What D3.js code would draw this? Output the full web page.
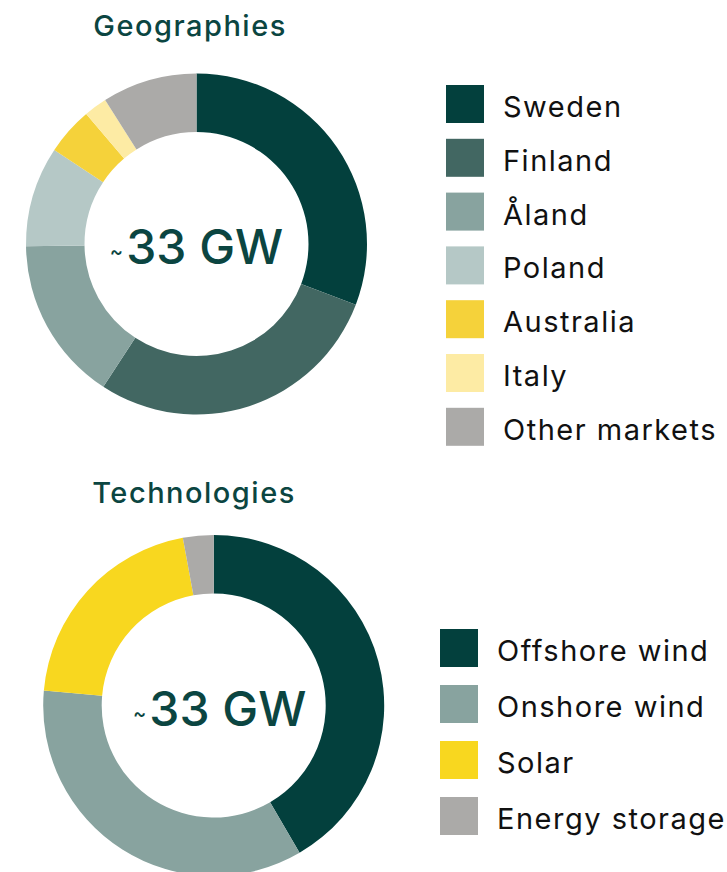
<!DOCTYPE html>
<html>
<head>
<meta charset="utf-8">
<script src="https://cdn.jsdelivr.net/npm/d3@7"></script>
<style>
    html, body { margin: 0; padding: 0; background: #ffffff; }
    svg text { font-family: Inter, "Noto Sans", sans-serif; }
</style>
</head>
<body>
<div id="chart"></div>
<script>
// shares in % (total ~33 GW)
var geoLabels = ["Sweden", "Finland", "Åland", "Poland", "Australia", "Italy", "Other markets"];
var geoShares = [30.8, 28.4, 15.6, 9.5, 4.5, 2.2, 9.0];

var techLabels = ["Offshore wind", "Onshore wind", "Solar", "Energy storage"];
var techShares = [41.6, 34.8, 20.7, 2.9];

var centerLabel = "33 GW";

var geoColors = ["#03403d", "#426762", "#88a39f", "#b5c8c6", "#f5d23a", "#fdeba4", "#abaaa8"];
var techColors = ["#03403d", "#88a39f", "#f8d71f", "#abaaa8"];

function donutChart(svg, opts) {
    var self = this;
    this.opts = opts;

    this.draw = function () {
        var o = self.opts;
        var color = d3.scaleOrdinal().domain(o.labels).range(o.colors);
        var pie = d3.pie().sort(null).value(function (d) { return d.v; });
        var arc = d3.arc().innerRadius(o.r0).outerRadius(o.r1);
        var rows = o.labels.map(function (l, i) { return {k: l, v: o.values[i]}; });

        svg.append("text")
                .attr("x", o.titleX)
                .attr("y", o.titleY)
                .attr("text-anchor", "middle")
                .attr("fill", "#0b4541")
                .attr("font-size", 29)
                .attr("letter-spacing", 1.5)
                .attr("font-weight", 500)
                .text(o.title);

        var g = svg.append("g")
                .attr("transform", "translate(" + o.cx + "," + o.cy + ")");
        g.selectAll("path")
                .data(pie(rows))
                .enter().append("path")
                .attr("d", arc)
                .attr("fill", function (d) { return color(d.data.k); });

        // centre label, the tilde is drawn small
        var t = g.append("text")
                .attr("x", o.labelDx)
                .attr("y", 20)
                .attr("text-anchor", "middle")
                .attr("fill", "#0b4541")
                .attr("font-size", 48)
                .attr("font-weight", 500);
        t.append("tspan").attr("font-size", 20).attr("dy", -6).text("~");
        t.append("tspan").attr("dy", 6).attr("dx", 3).text(centerLabel);

        var lg = svg.append("g")
                .attr("transform", "translate(" + o.legendX + "," + o.legendY + ")");
        var item = lg.selectAll("g")
                .data(o.labels)
                .enter().append("g")
                .attr("transform", function (d, i) { return "translate(0," + (i * o.step) + ")"; });
        item.append("rect")
                .attr("width", 38)
                .attr("height", 38)
                .attr("fill", function (d) { return color(d); });
        item.append("text")
                .attr("x", 57)
                .attr("y", 32)
                .attr("fill", "#111111")
                .attr("font-size", 29)
                .attr("letter-spacing", 1.5)
                .text(function (d) { return d; });
        return self;
    }
}

var svg = d3.select("#chart").append("svg")
        .attr("width", 727)
        .attr("height", 872);

new donutChart(svg, {
    title: "Geographies", titleX: 190, titleY: 36,
    labels: geoLabels, values: geoShares, colors: geoColors,
    cx: 196.5, cy: 244, r0: 112, r1: 170.5, labelDx: 0,
    legendX: 446, legendY: 85, step: 53.8
}).draw();

new donutChart(svg, {
    title: "Technologies", titleX: 194, titleY: 503,
    labels: techLabels, values: techShares, colors: techColors,
    cx: 213.7, cy: 705.5, r0: 112, r1: 170.5, labelDx: 6,
    legendX: 440, legendY: 629, step: 56
}).draw();
</script>
</body>
</html>
